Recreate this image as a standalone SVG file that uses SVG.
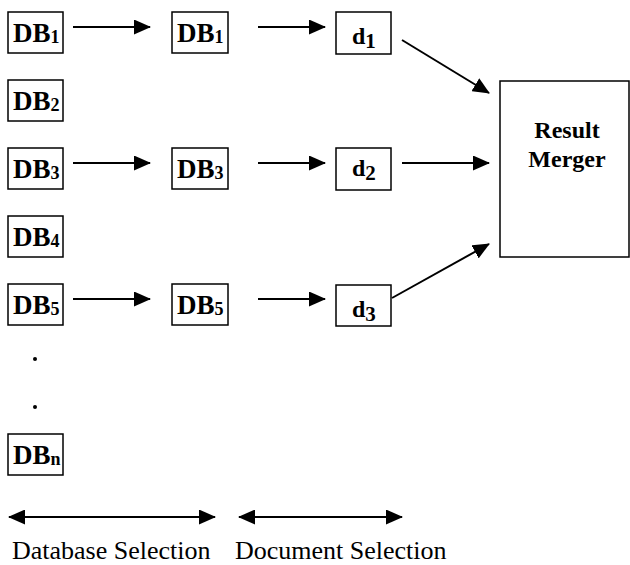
<svg xmlns="http://www.w3.org/2000/svg" width="630" height="565" viewBox="0 0 630 565">
<style>
.box{fill:#fff;stroke:#000;stroke-width:1.5}
text{font-family:'Liberation Serif',Tinos,'Times New Roman',Times,'Nimbus Roman','FreeSerif','Noto Serif','DejaVu Serif',serif;fill:#000}
.lbl{font-weight:bold;font-size:27px}
.dl{font-weight:bold;font-size:24px}
.cap{font-size:26px}
.ln{stroke:#000;stroke-width:2;fill:none}
</style>
<defs>
<marker id="ah" viewBox="0 0 17 15" refX="16" refY="7.5" markerWidth="17" markerHeight="15" markerUnits="userSpaceOnUse" orient="auto-start-reverse">
<path d="M0,0 L17,7.5 L0,15 Z" fill="#000"/>
</marker>
</defs>
<g id="db1"><rect class="box" x="8" y="12" width="55" height="41"/><text class="lbl" x="13" y="42">DB<tspan font-size="18" dy="1">1</tspan></text></g>
<g id="db2"><rect class="box" x="8" y="80" width="55" height="41"/><text class="lbl" x="13" y="110">DB<tspan font-size="18" dy="1">2</tspan></text></g>
<g id="db3"><rect class="box" x="8" y="148" width="55" height="41"/><text class="lbl" x="13" y="178">DB<tspan font-size="18" dy="1">3</tspan></text></g>
<g id="db4"><rect class="box" x="8" y="216" width="55" height="41"/><text class="lbl" x="13" y="246">DB<tspan font-size="18" dy="1">4</tspan></text></g>
<g id="db5"><rect class="box" x="8" y="284" width="55" height="41"/><text class="lbl" x="13" y="314">DB<tspan font-size="18" dy="1">5</tspan></text></g>
<g id="dots"><circle cx="35" cy="359" r="2"/><circle cx="35" cy="407" r="2"/></g>
<g id="dbn"><rect class="box" x="8" y="434" width="55" height="41"/><text class="lbl" x="13" y="464">DB<tspan font-size="18" dy="1">n</tspan></text></g>
<g id="sdb1"><rect class="box" x="172" y="12" width="56" height="41"/><text class="lbl" x="177" y="42">DB<tspan font-size="18" dy="1">1</tspan></text></g>
<g id="sdb3"><rect class="box" x="172" y="148" width="56" height="41"/><text class="lbl" x="177" y="178">DB<tspan font-size="18" dy="1">3</tspan></text></g>
<g id="sdb5"><rect class="box" x="172" y="284" width="56" height="41"/><text class="lbl" x="177" y="314">DB<tspan font-size="18" dy="1">5</tspan></text></g>
<g id="d1"><rect class="box" x="336" y="12" width="55" height="42"/><text class="dl" x="352" y="44">d<tspan font-size="21" dy="4">1</tspan></text></g>
<g id="d2"><rect class="box" x="336" y="148" width="55" height="42"/><text class="dl" x="352" y="176">d<tspan font-size="21" dy="4">2</tspan></text></g>
<g id="d3"><rect class="box" x="336" y="285" width="55" height="41"/><text class="dl" x="352" y="317">d<tspan font-size="21" dy="4">3</tspan></text></g>
<g id="merger"><rect class="box" x="500" y="81" width="129" height="176"/><text class="dl" x="567" y="138" text-anchor="middle">Result</text><text class="dl" x="567" y="167" text-anchor="middle">Merger</text></g>
<g id="connectors">
<line class="ln" x1="73" y1="27" x2="150" y2="27" marker-end="url(#ah)"/>
<line class="ln" x1="73" y1="163" x2="150" y2="163" marker-end="url(#ah)"/>
<line class="ln" x1="73" y1="299" x2="150" y2="299" marker-end="url(#ah)"/>
<line class="ln" x1="258" y1="27" x2="325" y2="27" marker-end="url(#ah)"/>
<line class="ln" x1="258" y1="163" x2="325" y2="163" marker-end="url(#ah)"/>
<line class="ln" x1="258" y1="299" x2="325" y2="299" marker-end="url(#ah)"/>
<line class="ln" x1="402" y1="40" x2="489" y2="93" marker-end="url(#ah)"/>
<line class="ln" x1="402" y1="163" x2="489" y2="163" marker-end="url(#ah)"/>
<line class="ln" x1="392" y1="298" x2="489" y2="244" marker-end="url(#ah)"/>
<line class="ln" x1="9" y1="517" x2="215" y2="517" marker-start="url(#ah)" marker-end="url(#ah)"/>
<line class="ln" x1="239" y1="517" x2="402" y2="517" marker-start="url(#ah)" marker-end="url(#ah)"/>
</g>
<text class="cap" x="12" y="559">Database Selection</text>
<text class="cap" x="235" y="559">Document Selection</text>
</svg>
